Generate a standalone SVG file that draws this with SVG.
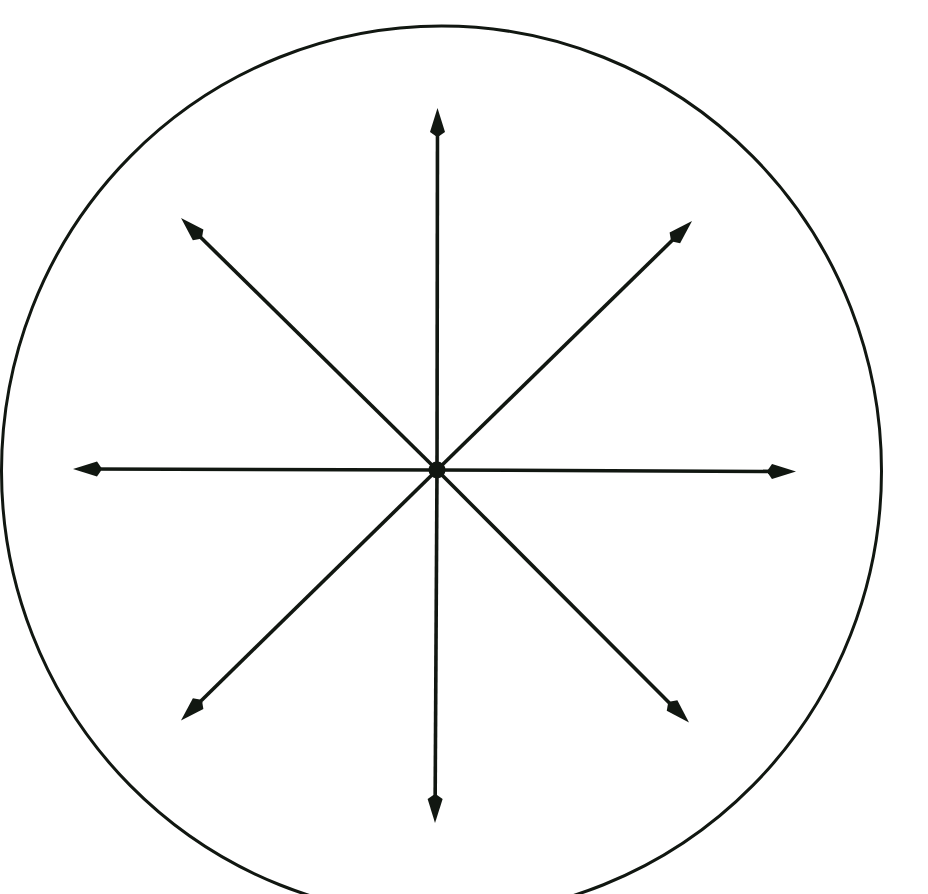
<svg xmlns="http://www.w3.org/2000/svg" width="928" height="894" viewBox="0 0 928 894">
  <style>
    .ray { stroke: #111711; stroke-width: 3.6; fill: none; marker-end: url(#arrow); }
    .rim { stroke: #111711; stroke-width: 3; fill: none; }
  </style>
  <defs>
    <marker id="arrow" markerUnits="userSpaceOnUse" orient="auto" refX="0" refY="0" markerWidth="40" markerHeight="40" overflow="visible">
      <path d="M15,0 L-9,-7.5 L-13,-1.8 L-13,1.8 L-9,7.5 Z" fill="#111711"/>
    </marker>
  </defs>
  <rect width="928" height="894" fill="#ffffff"/>
  <g id="circle">
    <ellipse class="rim" cx="441.5" cy="471" rx="440" ry="445"/>
  </g>
  <g id="connectors">
    <line class="ray" x1="437" y1="470" x2="437.5" y2="123"/>
    <line class="ray" x1="437" y1="470" x2="435.1" y2="808"/>
    <line class="ray" x1="437" y1="470" x2="88" y2="469"/>
    <line class="ray" x1="437" y1="470" x2="781" y2="471.5"/>
    <line class="ray" x1="437" y1="470" x2="191.7" y2="228.5"/>
    <line class="ray" x1="437" y1="470" x2="681.3" y2="231.5"/>
    <line class="ray" x1="437" y1="470" x2="191.7" y2="710"/>
    <line class="ray" x1="437" y1="470" x2="678.4" y2="711.9"/>
  </g>
  <g id="center">
    <circle cx="437" cy="470" r="8.5" fill="#111711"/>
  </g>
</svg>
